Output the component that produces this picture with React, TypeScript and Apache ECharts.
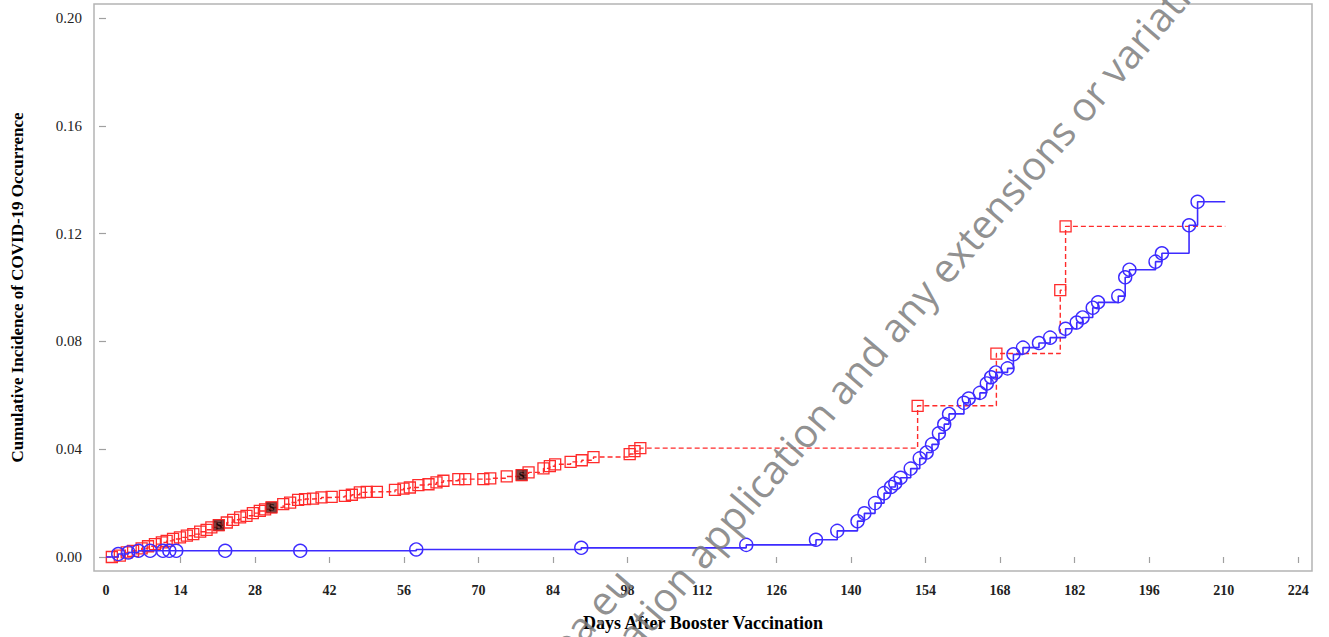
import React, { useEffect, useRef } from "react";
import * as echarts from "echarts";

// ---- data ----
const xTicks = [0, 14, 28, 42, 56, 70, 84, 98, 112, 126, 140, 154, 168, 182, 196, 210, 224];
const yTicks = [0, 0.04, 0.08, 0.12, 0.16, 0.2];

// red group (dashed step, square markers)
const redDays = [0, 1.1, 2.6, 3.9, 5.1, 6.7, 7.9, 9.2, 10.5, 11.4, 12.6, 13.9, 15.2, 16.4, 17.7, 18.9, 19.8, 21.2, 22.7, 23.9, 25.2, 26.4, 27.6, 28.9, 29.9, 31.1, 33.3, 34.6, 36.1, 37.4, 38.9, 40.5, 42.4, 44.9, 46.2, 47.7, 49.0, 50.9, 54.3, 55.9, 57.1, 58.7, 60.6, 62.1, 63.4, 66.2, 67.5, 70.9, 72.2, 75.3, 78.1, 79.4, 82.2, 83.4, 84.4, 87.3, 89.4, 91.6, 98.4, 99.3, 100.4, 152.5, 167.3, 179.3, 180.3, 210.3];
const redVals = [0, 0, 0.0005, 0.0017, 0.0023, 0.0032, 0.004, 0.0048, 0.0054, 0.006, 0.0067, 0.0073, 0.0079, 0.0085, 0.0094, 0.0101, 0.011, 0.0118, 0.0128, 0.0138, 0.0147, 0.0153, 0.0163, 0.0171, 0.0177, 0.0184, 0.0196, 0.0202, 0.0212, 0.0215, 0.0217, 0.0221, 0.0223, 0.0227, 0.0231, 0.024, 0.0242, 0.0242, 0.0249, 0.0254, 0.0258, 0.0267, 0.027, 0.0277, 0.0283, 0.0289, 0.0289, 0.0289, 0.0292, 0.0299, 0.0304, 0.0314, 0.0329, 0.0337, 0.0344, 0.0353, 0.0359, 0.0371, 0.0382, 0.0393, 0.0404, 0.0561, 0.0755, 0.099, 0.1227, 0.1227];
const redSDays = [21.2, 31.1, 78.1];
const redSVals = [0.0118, 0.0184, 0.0304];

// blue group (solid step, circle markers)
const blueDays = [0, 2.3, 4.2, 6.1, 8.3, 10.7, 11.9, 13.2, 22.4, 36.5, 58.3, 89.3, 120.3, 133.4, 137.4, 141.2, 142.5, 144.5, 146.2, 147.5, 148.3, 149.3, 151.2, 152.9, 154.2, 155.2, 156.5, 157.5, 158.4, 161.2, 162.1, 164.2, 165.5, 166.3, 167.2, 169.4, 170.5, 172.3, 175.3, 177.4, 180.3, 182.4, 183.5, 185.4, 186.4, 190.2, 191.5, 192.3, 197.2, 198.4, 203.5, 205.1, 210.3];
const blueVals = [0, 0.0011, 0.0017, 0.0023, 0.0023, 0.0023, 0.0023, 0.0023, 0.0023, 0.0023, 0.0028, 0.0034, 0.0045, 0.0064, 0.0097, 0.0133, 0.0162, 0.02, 0.0237, 0.026, 0.0274, 0.0294, 0.0328, 0.0366, 0.0388, 0.0418, 0.0459, 0.0493, 0.0531, 0.0572, 0.0588, 0.0609, 0.0644, 0.0667, 0.0685, 0.07, 0.0752, 0.0777, 0.0794, 0.0814, 0.0847, 0.087, 0.0889, 0.0925, 0.0945, 0.0968, 0.1038, 0.1066, 0.1096, 0.1127, 0.1231, 0.1318, 0.1318];

const xTitle = "Days After Booster Vaccination";
const yTitle = "Cumulative Incidence of COVID-19 Occurrence";
const watermarkMain = "ation application and any extensions or variations";
const watermarkSecond = "pa.eu";

const RED = "#ff2b2b";
const BLUE = "#3d2bff";
const SERIF = "'Liberation Serif', 'Times New Roman', serif";

function buildSeriesData(days: number[], vals: number[]) {
  return days.map((d, i) => {
    const isEnd = i === 0 || i === days.length - 1;
    return isEnd ? { value: [d, vals[i]], symbol: "none" } : { value: [d, vals[i]] };
  });
}

export default function App() {
  const ref = useRef<HTMLDivElement>(null);
  useEffect(() => {
    if (!ref.current) return;
    const chart = echarts.init(ref.current, undefined, { renderer: "svg" });
    const rot = (49.5 * Math.PI) / 180;
    chart.setOption({
      animation: false,
      backgroundColor: "#ffffff",
      grid: { left: 94, top: 4, right: 17, bottom: 65, show: true, borderColor: "#b4b4b4", borderWidth: 1.5, containLabel: false },
      xAxis: {
        type: "value",
        min: -2.25,
        max: 226.6,
        splitLine: { show: false },
        axisLine: { show: false },
        axisTick: { show: true, length: 6, customValues: xTicks, lineStyle: { color: "#a0a0a0", width: 1.2 } },
        axisLabel: { customValues: xTicks, color: "#222", fontFamily: SERIF, fontSize: 14, fontWeight: "bold", margin: 12 },
        name: xTitle,
        nameLocation: "middle",
        nameGap: 43,
        nameTextStyle: { fontFamily: SERIF, fontSize: 18, fontWeight: "bold", color: "#000" },
      },
      yAxis: {
        type: "value",
        min: -0.00519,
        max: 0.2052,
        splitLine: { show: false },
        axisLine: { show: false },
        axisTick: { show: true, length: 7, customValues: yTicks, lineStyle: { color: "#a0a0a0", width: 1.2 } },
        axisLabel: { customValues: yTicks, color: "#222", fontFamily: SERIF, fontSize: 15, margin: 12, formatter: (v: number) => v.toFixed(2) },
        name: yTitle,
        nameLocation: "middle",
        nameGap: 68,
        nameTextStyle: { fontFamily: SERIF, fontSize: 17, fontWeight: "bold", color: "#000" },
      },
      series: [
        {
          type: "line",
          data: buildSeriesData(redDays, redVals),
          step: "end",
          symbol: "rect",
          symbolSize: 11,
          showAllSymbol: true,
          lineStyle: { color: RED, width: 1.4, type: [5, 3] },
          itemStyle: { color: "rgba(255,255,255,0)", borderColor: RED, borderWidth: 1.3 },
          z: 2,
        },
        {
          type: "scatter",
          data: redSDays.map((d, i) => [d, redSVals[i]]),
          symbol: "rect",
          symbolSize: 11,
          itemStyle: { color: "#5c1414", borderColor: RED, borderWidth: 1 },
          label: { show: true, position: "inside", formatter: "S", color: "#000", fontFamily: SERIF, fontWeight: "bold", fontSize: 11 },
          z: 3,
        },
        {
          type: "line",
          data: buildSeriesData(blueDays, blueVals),
          step: "end",
          symbol: "circle",
          symbolSize: 13,
          showAllSymbol: true,
          lineStyle: { color: BLUE, width: 1.6 },
          itemStyle: { color: "rgba(255,255,255,0)", borderColor: BLUE, borderWidth: 1.4 },
          z: 4,
        },
      ],
      graphic: [
        {
          type: "text",
          x: 624,
          y: 642,
          rotation: rot,
          z: 100,
          silent: true,
          style: { text: watermarkMain, fontFamily: "'Open Sans', sans-serif", fontSize: 40, fill: "rgba(125,125,125,0.85)", align: "left", verticalAlign: "middle" },
        },
        {
          type: "text",
          x: 624,
          y: 574,
          rotation: rot,
          z: 100,
          silent: true,
          style: { text: watermarkSecond, fontFamily: "'Open Sans', sans-serif", fontSize: 40, fill: "rgba(125,125,125,0.85)", align: "right", verticalAlign: "middle" },
        },
      ],
    });
    return () => chart.dispose();
  }, []);
  return <div ref={ref} style={{ position: "fixed", left: 0, top: 0, width: 1329, height: 637 }} />;
}
